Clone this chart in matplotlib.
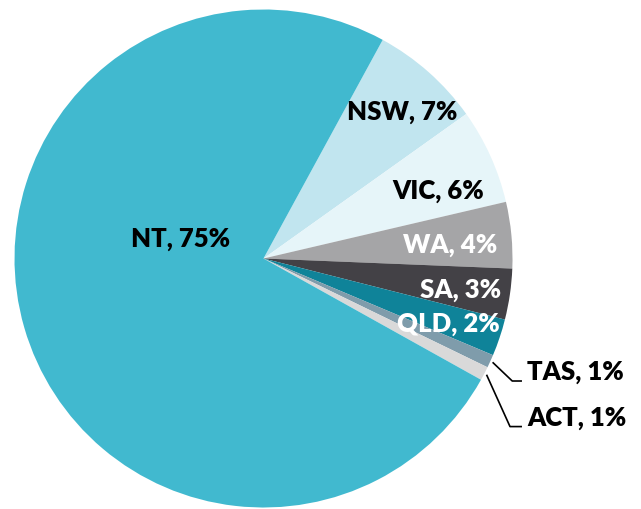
import matplotlib
matplotlib.use("Agg")
import matplotlib.pyplot as plt
import numpy as np

# clockwise from the NT/NSW boundary at the top right
states = ["NSW", "VIC", "WA", "SA", "QLD", "TAS", "ACT", "NT"]
shares = [7.2, 6.2, 4.3, 3.3, 2.4, 0.85, 0.9, 74.85]
pct_labels = ["7%", "6%", "4%", "3%", "2%", "1%", "1%", "75%"]
colors = ["#C1E5EF", "#E6F5F9", "#A5A5A7", "#434146", "#0F8399",
          "#7F9CAB", "#D9D9D9", "#41B9CF"]
text_colors = ["black", "black", "white", "white", "white", "black", "black", "black"]

W, H = 641, 509
cx, cy, R = 263.5, 258.5, 249.0

fig = plt.figure(figsize=(W / 100, H / 100), dpi=100)
ax = fig.add_axes([0, 0, 1, 1])

wedges, _ = ax.pie(shares, colors=colors, startangle=61.4, counterclock=False,
                   radius=1.0, center=(0, 0), wedgeprops=dict(linewidth=0))

ax.set_xlim(-cx / R, (W - cx) / R)
ax.set_ylim(-(H - cy) / R, cy / R)
ax.set_aspect("equal")
ax.axis("off")

font = dict(family=["Lato", "DejaVu Sans"], fontweight="heavy", fontsize=18.5)

# inside labels: (radius fraction, angle in degrees)
inside_pos = {
    "NSW": (0.812, 46.5),
    "VIC": (0.753, 21.2),
    "WA": (0.751, 4.1),
    "SA": (0.803, -9.0),
    "QLD": (0.786, -19.5),
    "NT": (0.340, 166.9),
}
for name, pct, tc in zip(states, pct_labels, text_colors):
    if name not in inside_pos:
        continue
    r, a = inside_pos[name]
    t = np.deg2rad(a)
    ax.text(r * np.cos(t), r * np.sin(t), f"{name}, {pct}", color=tc,
            ha="center", va="center", **font)

# outside labels with leader lines: (knee x, line y)
outside = {"TAS": (0.999, -0.492), "ACT": (0.99, -0.675)}
for name, pct, w in zip(states, pct_labels, wedges):
    if name not in outside:
        continue
    mid = np.deg2rad((w.theta1 + w.theta2) / 2)
    x0, y0 = 1.01 * np.cos(mid), 1.01 * np.sin(mid)
    xk, ty = outside[name]
    xe = 1.038
    ax.plot([x0, xk, xe], [y0, ty, ty], color="black", lw=1.2,
            solid_capstyle="butt")
    ax.text(xe + 0.02, ty + 0.036, f"{name}, {pct}", color="black",
            ha="left", va="center", **font)

fig.savefig("out.png", dpi=100)
